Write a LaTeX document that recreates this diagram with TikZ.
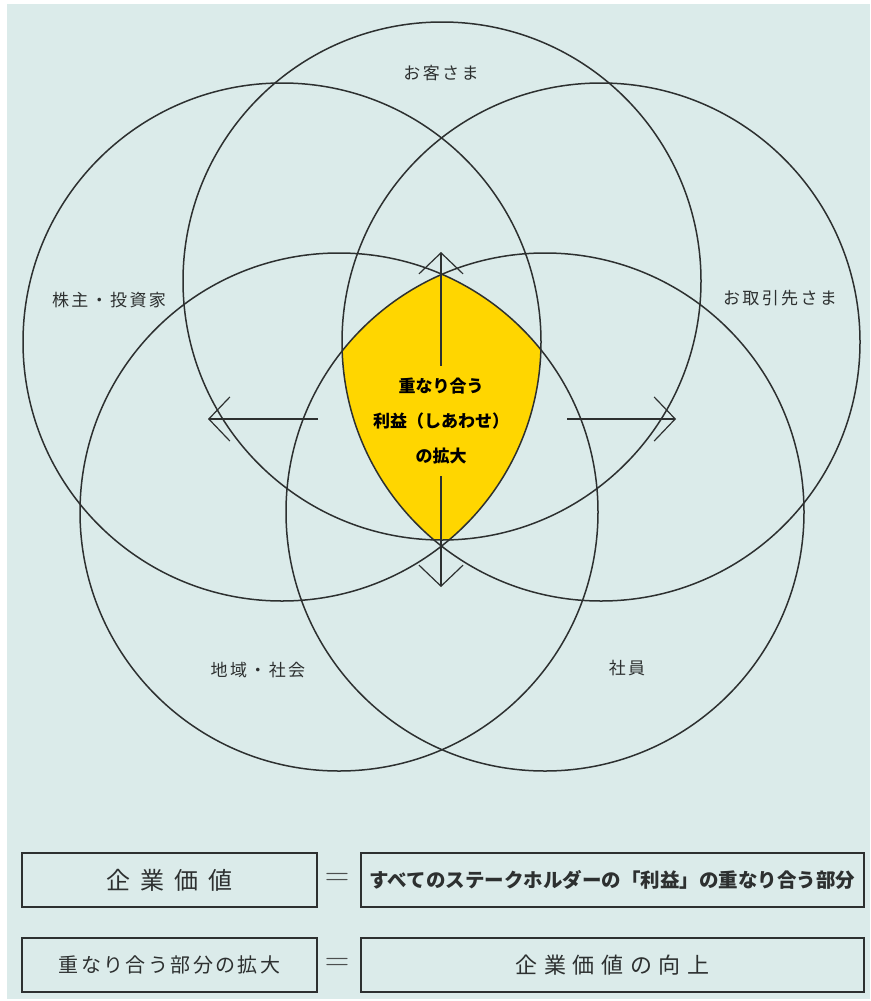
\documentclass[tikz,border=0pt]{standalone}
\usepackage{fontspec}
\newfontfamily\jp{Noto Sans CJK JP}
\usetikzlibrary{arrows.meta}
\definecolor{paper}{RGB}{219,235,234}
\definecolor{sun}{RGB}{255,214,0}
\definecolor{ink}{RGB}{45,48,48}
\tikzset{
  ring/.style  = {circle, draw=ink, line width=1.5pt, minimum size=518pt, inner sep=0pt},
  who/.style   = {text=ink, font=\jp\addfontfeature{LetterSpace=14}\fontsize{17}{20}\selectfont},
  core/.style  = {align=center, inner sep=0pt, inner ysep=12pt, text=black,
                  font=\jp\bfseries\fontsize{17}{35}\selectfont},
  chev/.style  = {-{Straight Barb[length=21pt,width=44pt]}, draw=ink, line width=1.2pt},
  box/.style   = {draw=ink, line width=1.5pt, minimum height=54pt, inner sep=0pt, text=ink},
  eq/.style    = {text=ink!85, font=\fontsize{34}{34}\selectfont},
}
\begin{document}
\begin{tikzpicture}[x=1pt,y=-1pt]
  \useasboundingbox (0,0) rectangle (870,1001);
  \fill[white] (0,0) rectangle (870,1001);
  \fill[paper] (7,4) rectangle (870,999);
  % overlap of all five
  \begin{scope}
    \clip (442,281) circle [radius=259pt];
    \clip (282,342) circle [radius=259pt];
    \clip (601,342) circle [radius=259pt];
    \clip (339,512) circle [radius=259pt];
    \clip (545,512) circle [radius=259pt];
    \fill[sun] (0,0) rectangle (870,1001);
  \end{scope}
  \node[ring] (kyaku)  at (442,281) {};
  \node[ring] (kabu)   at (282,342) {};
  \node[ring] (tori)   at (601,342) {};
  \node[ring] (chiiki) at (339,512) {};
  \node[ring] (shain)  at (545,512) {};
  \node[who] at (441,73)  {お客さま};
  \node[who] at (109,300) {株主・投資家};
  \node[who] at (780,298) {お取引先さま};
  \node[who] at (258,670) {地域・社会};
  \node[who] at (627,668) {社員};
  % arrows
  \node[core] (gain) at (441,421) {重なり合う\\利益（しあわせ）\\の拡大};
  \coordinate (up)   at (441,252);
  \coordinate (down) at (441,587);
  \coordinate (lst)  at (318,419);
  \coordinate (lend) at (208,419);
  \coordinate (rst)  at (567,419);
  \coordinate (rend) at (676,419);
  \draw[chev] (gain) -- (up);
  \draw[chev] (gain) -- (down);
  \draw[chev] (lst) -- (lend);
  \draw[chev] (rst) -- (rend);
  % equations
  \node[box, minimum width=295pt, font=\jp\addfontfeature{LetterSpace=42}\fontsize{24}{26}\selectfont]
    (value) at (169.5,880) {企業価値};
  \node[eq] (eqa) at (337,879) {=};
  \node[box, minimum width=503pt, font=\jp\bfseries\fontsize{19.5}{22}\selectfont]
    (share) at (612.5,880) {すべてのステークホルダーの「利益」の重なり合う部分};
  \node[box, minimum width=295pt, font=\jp\addfontfeature{LetterSpace=12}\fontsize{20}{22}\selectfont]
    (grow) at (169.5,965) {重なり合う部分の拡大};
  \node[eq] (eqb) at (337,964) {=};
  \node[box, minimum width=503pt, font=\jp\addfontfeature{LetterSpace=30}\fontsize{22}{24}\selectfont]
    (rise) at (612.5,965) {企業価値の向上};
\end{tikzpicture}
\end{document}
